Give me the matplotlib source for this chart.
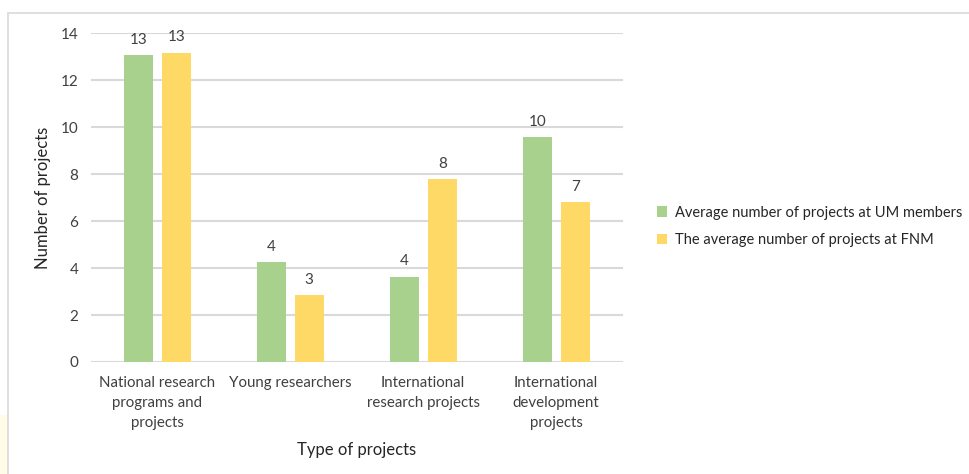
import matplotlib
matplotlib.use("Agg")
import matplotlib.pyplot as plt
import numpy as np
from matplotlib.patches import Rectangle

categories = ["National research\nprograms and\nprojects", "Young researchers",
              "International\nresearch projects", "International\ndevelopment\nprojects"]
um_members = [13.06, 4.25, 3.64, 9.58]
fnm = [13.18, 2.86, 7.80, 6.82]
series_names = ["Average number of projects at UM members",
                "The average number of projects at FNM"]
yticks = [0, 2, 4, 6, 8, 10, 12, 14]

plt.rcParams['font.family'] = ['Lato', 'DejaVu Sans']

fig = plt.figure(figsize=(9.7, 4.74), dpi=100)
fig.patches.append(Rectangle((0, 0), 0.008, 0.125, transform=fig.transFigure,
                             facecolor='#FFFBE6', edgecolor='none', zorder=0))
fig.patches.append(Rectangle((0.0086, -0.05), 1.2, 1.022, transform=fig.transFigure,
                             facecolor='none', edgecolor='#D9D9D9', linewidth=1.2, zorder=1))

ax = fig.add_axes([0.0935, 0.2363, 0.5485, 0.6934])
x = np.arange(len(categories))
w = 0.218
off = 0.143
b1 = ax.bar(x - off, um_members, w, color='#A9D18E', label=series_names[0], zorder=3)
b2 = ax.bar(x + off, fnm, w, color='#FFD966', label=series_names[1], zorder=3)

for bars, vals in ((b1, um_members), (b2, fnm)):
    for r, v in zip(bars, vals):
        ax.annotate(f"{v:.0f}", (r.get_x() + r.get_width() / 2, v),
                    xytext=(0, 6), textcoords='offset points', ha='center', va='bottom',
                    fontsize=11, color='#404040')

ax.set_xlim(-0.5, len(categories) - 0.5)
ax.set_ylim(0, 14)
ax.set_yticks(yticks)
ax.set_yticklabels([str(t) for t in yticks], fontsize=11, color='#404040')
ax.set_xticks(x)
ax.set_xticklabels(categories, fontsize=10.8, color='#404040', linespacing=1.55)
ax.tick_params(axis='both', length=0)
ax.tick_params(axis='y', pad=9)
ax.tick_params(axis='x', pad=10)
ax.grid(axis='y', color='#D9D9D9', linewidth=1.5, zorder=0)
for s in ax.spines.values():
    s.set_visible(False)

ax.set_ylabel("Number of projects", fontsize=12, color='#262626', labelpad=7)
fig.text(0.368, 0.05, "Type of projects", fontsize=12, color='#262626', ha='center', va='center')

fig.legend(handles=[b1, b2], labels=series_names, loc='center left',
           bbox_to_anchor=(0.664, 0.522), frameon=False, fontsize=10.5,
           handlelength=0.7, handleheight=0.7, handletextpad=0.5, labelspacing=0.95,
           labelcolor='#262626')

fig.savefig("out.png", dpi=100)
